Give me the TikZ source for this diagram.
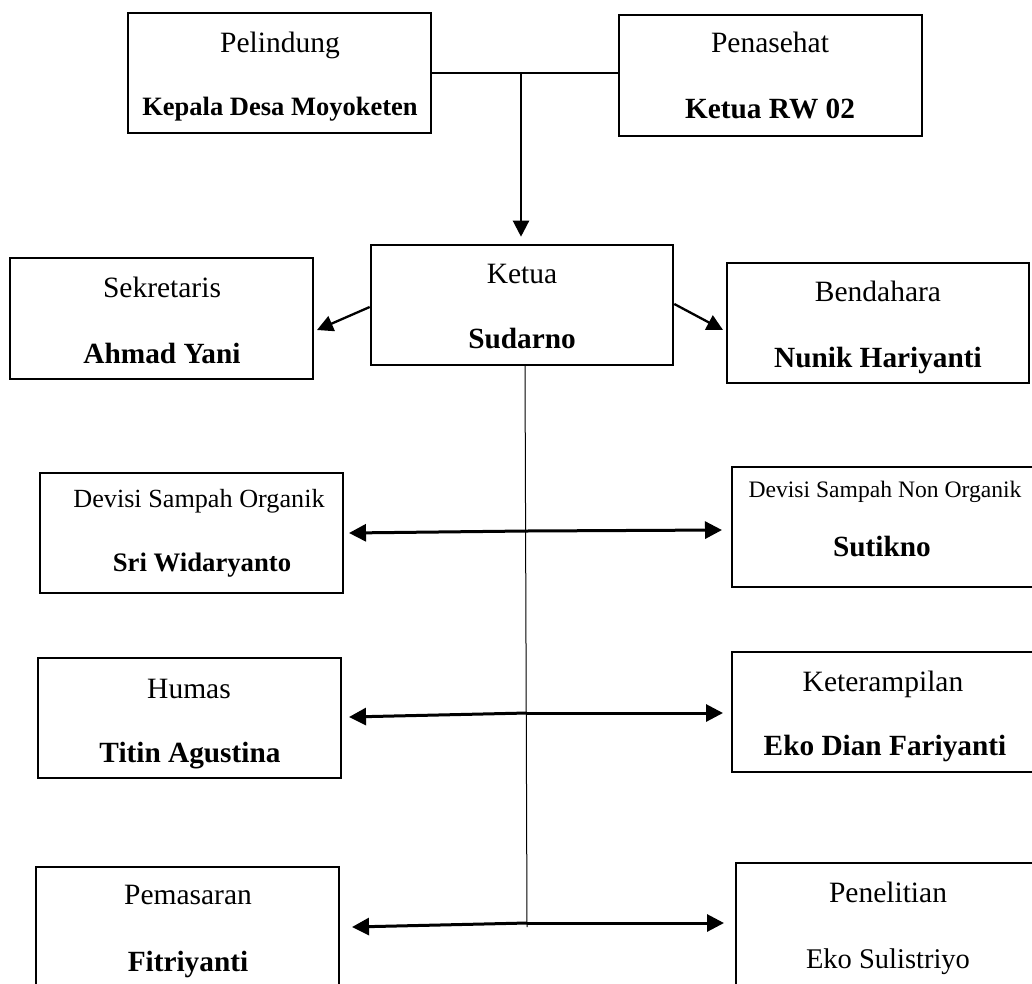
\documentclass[tikz,border=0pt]{standalone}
\usepackage{fontspec}
\setmainfont{Liberation Serif}
\usetikzlibrary{arrows.meta}
\tikzset{
  orgbox/.style={draw, line width=2.6pt, inner sep=0pt},
  lbltxt/.style={inner sep=0pt, anchor=base, font=\fontsize{29.5}{31}\selectfont},
  nametxt/.style={inner sep=0pt, anchor=base, font=\fontsize{29.3}{31}\selectfont\bfseries},
  thinline/.style={line width=1.2pt},
  vline/.style={line width=1pt},
  arr/.style={line width=2.3pt, -{Triangle[length=16pt,width=16pt]}},
  darr/.style={line width=3pt, -{Triangle[length=17pt,width=17pt]}},
}
\newcommand{\boxat}[5]{\node[orgbox, minimum width={#4-#2}, minimum height={#5-#3}] (#1) at ({(#2+#4)/2},{(#3+#5)/2}) {};}
\begin{document}
\begin{tikzpicture}[x=1pt,y=-1pt]
\useasboundingbox (0,0) rectangle (1032,983);
% boxes
\boxat{pel}{128}{13}{431}{133}
\boxat{pen}{619}{15}{922}{136}
\boxat{ket}{371}{245}{673}{365}
\boxat{sek}{10}{258}{313}{379}
\boxat{ben}{727}{263}{1029}{383}
\boxat{dso}{40}{473}{343}{593}
\boxat{dsn}{732}{467}{1035}{587}
\boxat{hum}{38}{658}{341}{778}
\boxat{ktr}{732}{652}{1035}{772}
\boxat{pem}{36}{867}{339}{990}
\boxat{pnl}{736}{863}{1039}{990}
% texts
\node[lbltxt] (t1) at (280,52) {Pelindung};
\node[nametxt, font=\fontsize{26.5}{28}\selectfont\bfseries] (n1) at (280,115) {Kepala Desa Moyoketen};
\node[lbltxt] (t2) at (770,52) {Penasehat};
\node[nametxt] (n2) at (770,118) {Ketua RW 02};
\node[lbltxt] (t3) at (522,283) {Ketua};
\node[nametxt] (n3) at (522,348) {Sudarno};
\node[lbltxt] (t4) at (162,297) {Sekretaris};
\node[nametxt] (n4) at (162,363) {Ahmad Yani};
\node[lbltxt] (t5) at (878,301) {Bendahara};
\node[nametxt] (n5) at (878,367) {Nunik Hariyanti};
\node[lbltxt, font=\fontsize{26.2}{28}\selectfont] (t6) at (199,507) {Devisi Sampah Organik};
\node[nametxt, font=\fontsize{26.7}{28}\selectfont\bfseries] (n6) at (202,571) {Sri Widaryanto};
\node[lbltxt, font=\fontsize{23.6}{25}\selectfont] (t7) at (885,497) {Devisi Sampah Non Organik};
\node[nametxt] (n7) at (882,556) {Sutikno};
\node[lbltxt] (t8) at (189,698) {Humas};
\node[nametxt] (n8) at (190,762) {Titin Agustina};
\node[lbltxt] (t9) at (883,691) {Keterampilan};
\node[nametxt] (n9) at (885,755) {Eko Dian Fariyanti};
\node[lbltxt] (t10) at (188,904) {Pemasaran};
\node[nametxt] (n10) at (188,971) {Fitriyanti};
\node[lbltxt] (t11) at (888,902) {Penelitian};
\node[lbltxt, font=\fontsize{28.5}{30}\selectfont] (n11) at (888,968) {Eko Sulistriyo};
% coordinates
\coordinate (j0) at (521,73);
\coordinate (k0) at (525,365);
\coordinate (k1) at (527,927);
\coordinate (r1) at (526,531);
\coordinate (r2) at (527,713);
\coordinate (r3) at (527,923);
% connectors
\draw[thinline] (pel.east |- j0) -- (pen.west |- j0);
\draw[arr] (j0) -- ([yshift=7pt]ket.north -| j0);
\draw[arr] (ket.west |- 0,307) -- (317,330);
\draw[arr] (ket.east |- 0,304) -- (723,330);
\draw[vline] (k0) -- (k1);
\draw[darr] (r1) -- (349,533);
\draw[darr] (r1) -- (722,530);
\draw[darr] (r2) -- (349,717);
\draw[darr] (r2) -- (723,713);
\draw[darr] (r3) -- (352,927);
\draw[darr] (r3) -- (724,923);
\end{tikzpicture}
\end{document}
